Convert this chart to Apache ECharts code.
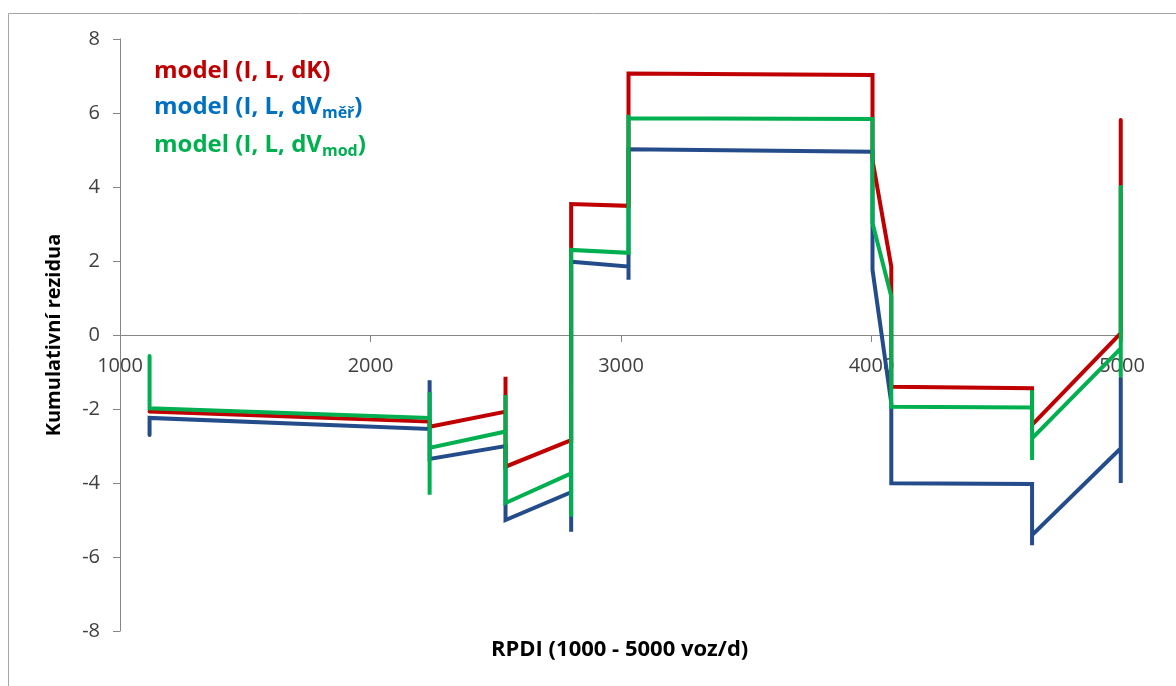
<!DOCTYPE html>
<html>
<head>
<meta charset="utf-8">
<script src="https://cdn.jsdelivr.net/npm/echarts@6/dist/echarts.min.js"></script>
<style>
  html, body { margin: 0; padding: 0; background: #ffffff; }
  #chart { width: 1176px; height: 686px; }
</style>
</head>
<body>
<div id="chart"></div>
<script>
// Cumulative residuals along RPDI; repeated x values give the vertical jumps.
const seriesNames = ['model (I, L, dK)', 'model (I, L, dVměř)', 'model (I, L, dVmod)'];

const dKPoints = [
  [1118, -2.07],
  [2236, -2.34], [2236, -2.48],
  [2539, -2.07], [2539, -1.13], [2539, -3.56],
  [2801, -2.84], [2801, 3.54],
  [3030, 3.49], [3030, 7.07],
  [4004, 7.03], [4004, 4.73],
  [4079, 1.85], [4079, -1.40],
  [4641, -1.44], [4641, -2.43],
  [4995, 0.05], [4995, 5.81]
];

const dVmerPoints = [
  [1118, -2.70], [1118, -2.24],
  [2236, -2.54], [2236, -1.22], [2236, -3.35],
  [2539, -3.00], [2539, -5.00],
  [2801, -4.25], [2801, -5.32], [2801, 1.98],
  [3030, 1.85], [3030, 1.49], [3030, 5.02],
  [4004, 4.95], [4004, 1.76],
  [4079, -1.84], [4079, -4.01],
  [4641, -4.03], [4641, -5.68], [4641, -5.41],
  [4995, -3.06], [4995, -4.00], [4995, -1.16]
];

const dVmodPoints = [
  [1118, -0.57], [1118, -1.98],
  [2236, -2.24], [2236, -1.54], [2236, -4.32], [2236, -3.05],
  [2539, -2.61], [2539, -1.62], [2539, -4.54], [2539, -4.50],
  [2801, -3.74], [2801, -4.91], [2801, 2.30], [2801, 2.28],
  [3030, 2.22], [3030, 5.95], [3030, 5.86],
  [4004, 5.84], [4004, 3.03],
  [4079, 1.04], [4079, -1.94],
  [4641, -1.96], [4641, -1.49], [4641, -3.38], [4641, -2.79],
  [4995, -0.36], [4995, 4.05], [4995, -1.10]
];

const xTicks = [1000, 2000, 3000, 4000, 5000];
const yTicks = [-8, -6, -4, -2, 0, 2, 4, 6, 8];

const xTitle = 'RPDI (1000 - 5000 voz/d)';
const yTitle = 'Kumulativní rezidua';

const RED = '#C00000';
const NAVY = '#244C8A';
const GREEN = '#00B050';
const LEGEND_BLUE = '#0070C0';

const axisGrey = '#868686';
const labelGrey = '#404040';
const FONT = '"Open Sans", "DejaVu Sans", sans-serif';

// plot box in pixels
const GRID = { left: 120, right: 54, top: 39, bottom: 55 };
const PLOT_H = 686 - GRID.top - GRID.bottom;

const chart = echarts.init(document.getElementById('chart'), null, { renderer: 'canvas' });

function lineSeries(name, data, color, z) {
  return {
    name: name,
    type: 'line',
    data: data,
    showSymbol: false,
    symbol: 'none',
    z: z,
    lineStyle: { color: color, width: 4, cap: 'round', join: 'miter' },
    itemStyle: { color: color },
    emphasis: { disabled: true }
  };
}

const legendFont = { fontFamily: FONT, fontWeight: 'bold', fontSize: 24, lineHeight: 28 };
const subFont = { fontFamily: FONT, fontWeight: 'bold', fontSize: 16, lineHeight: 12, verticalAlign: 'bottom' };

// the x axis sits on y = 0, i.e. halfway up the plot (y runs -8 .. 8)
const xAxisLift = -PLOT_H * (0 - yTicks[0]) / (yTicks[yTicks.length - 1] - yTicks[0]);

chart.setOption({
  animation: false,
  backgroundColor: '#ffffff',
  grid: Object.assign({ containLabel: false }, GRID),
  legend: {
    orient: 'vertical',
    left: 144,
    top: 54,
    icon: 'none',
    itemWidth: 0,
    itemHeight: 10,
    itemGap: 12,
    selectedMode: false,
    data: [seriesNames[0], seriesNames[1], seriesNames[2]],
    formatter: function (name) {
      if (name === seriesNames[0]) return '{r|model (I, L, dK)}';
      if (name === seriesNames[1]) return '{b|model (I, L, dV}{bs|měř}{b|)}';
      return '{g|model (I, L, dV}{gs|mod}{g|)}';
    },
    textStyle: {
      rich: {
        r: Object.assign({ color: RED }, legendFont),
        b: Object.assign({ color: LEGEND_BLUE }, legendFont),
        bs: Object.assign({ color: LEGEND_BLUE }, subFont),
        g: Object.assign({ color: GREEN }, legendFont),
        gs: Object.assign({ color: GREEN }, subFont)
      }
    }
  },
  xAxis: {
    type: 'value',
    position: 'bottom',
    offset: xAxisLift,
    min: xTicks[0],
    max: xTicks[xTicks.length - 1],
    interval: 1000,
    axisLine: { onZero: false, lineStyle: { color: axisGrey, width: 1 } },
    axisTick: { show: true, length: 7, lineStyle: { color: axisGrey } },
    axisLabel: {
      color: labelGrey, fontFamily: FONT, fontSize: 20, margin: 21,
      formatter: function (v) { return String(v); }
    },
    splitLine: { show: false }
  },
  yAxis: {
    type: 'value',
    min: yTicks[0],
    max: yTicks[yTicks.length - 1],
    interval: 2,
    name: yTitle,
    nameLocation: 'middle',
    nameRotate: 90,
    nameGap: 56,
    nameTextStyle: { color: '#000000', fontFamily: FONT, fontWeight: 'bold', fontSize: 20 },
    axisLine: { show: true, onZero: false, lineStyle: { color: axisGrey, width: 1 } },
    axisTick: { show: true, length: 7, lineStyle: { color: axisGrey } },
    axisLabel: { color: labelGrey, fontFamily: FONT, fontSize: 20, margin: 20 },
    splitLine: { show: false }
  },
  graphic: [
    {
      type: 'rect',
      silent: true,
      shape: { x: 8.5, y: 13.5, width: 1200, height: 700 },
      style: { fill: 'none', stroke: '#A6A6A6', lineWidth: 1 },
      z: -10
    },
    {
      type: 'text',
      silent: true,
      left: 491,
      top: 639,
      style: {
        text: xTitle,
        fill: '#000000',
        font: 'bold 22px ' + FONT
      }
    }
  ],
  series: [
    lineSeries(seriesNames[1], dVmerPoints, NAVY, 2),
    lineSeries(seriesNames[0], dKPoints, RED, 3),
    lineSeries(seriesNames[2], dVmodPoints, GREEN, 4)
  ]
});
</script>
</body>
</html>
